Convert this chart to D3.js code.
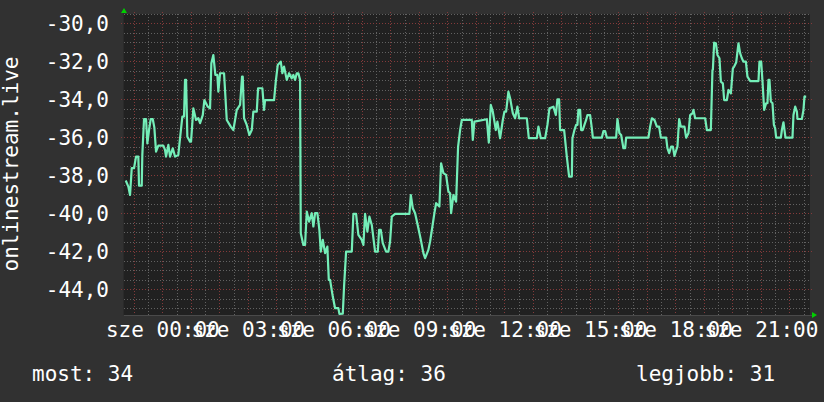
<!DOCTYPE html>
<html><head><meta charset="utf-8">
<script src="https://cdn.jsdelivr.net/npm/d3@7"></script>
<style>html,body{margin:0;padding:0;background:#313131;}svg{display:block}</style>
</head><body><svg id="c" width="824" height="402"></svg>
<script>
// hours relative to "sze 00:00"
const times = [-1.284,-1.193,-1.133,-1.074,-0.993,-0.923,-0.842,-0.818,-0.723,-0.702,-0.642,-0.572,-0.526,-0.467,-0.407,-0.337,-0.281,-0.221,-0.140,0.035,0.095,0.130,0.211,0.270,0.365,0.446,0.561,0.621,0.702,0.761,0.796,0.832,0.877,0.972,1.007,1.088,1.182,1.263,1.323,1.418,1.474,1.593,1.674,1.719,1.789,1.860,1.930,1.965,2.025,2.165,2.260,2.400,2.491,2.551,2.611,2.726,2.796,2.821,2.867,2.961,3.053,3.137,3.193,3.312,3.358,3.509,3.568,3.604,3.919,3.979,4.049,4.154,4.211,4.270,4.365,4.446,4.540,4.596,4.656,4.716,4.772,4.832,4.856,4.947,5.007,5.067,5.147,5.242,5.298,5.358,5.439,5.509,5.558,5.628,5.709,5.789,5.839,5.884,5.979,6.060,6.175,6.211,6.330,6.375,6.446,6.646,6.702,6.796,6.877,6.996,7.053,7.112,7.193,7.263,7.347,7.463,7.558,7.604,7.663,7.733,7.849,7.930,7.989,8.049,8.165,8.667,8.716,8.786,8.867,8.982,9.067,9.158,9.218,9.333,9.393,9.474,9.544,9.604,9.719,9.779,9.860,9.954,10.035,10.095,10.130,10.211,10.305,10.375,10.446,10.505,10.856,10.891,10.947,11.382,11.453,11.523,11.593,11.698,11.754,11.849,11.944,12.000,12.060,12.140,12.200,12.295,12.375,12.456,12.516,12.786,12.856,13.137,13.193,13.277,13.428,13.509,13.579,13.719,13.803,13.860,13.919,13.954,14.095,14.130,14.189,14.270,14.365,14.386,14.456,14.516,14.561,14.596,14.656,14.691,14.751,14.807,14.867,14.912,15.007,15.067,15.102,15.418,15.474,15.533,15.593,15.919,15.965,16.035,16.095,16.175,16.235,16.270,17.053,17.112,17.172,17.263,17.347,17.428,17.488,17.674,17.719,17.779,17.849,17.909,17.965,18.049,18.070,18.130,18.189,18.316,18.375,18.456,18.516,18.596,18.632,18.691,19.042,19.102,19.242,19.298,19.312,19.358,19.418,19.474,19.544,19.593,19.663,19.709,19.804,19.860,19.944,20.014,20.060,20.130,20.211,20.270,20.330,20.386,20.470,20.526,20.621,20.912,20.947,21.007,21.053,21.112,21.182,21.228,21.263,21.298,21.347,21.404,21.453,21.498,21.533,21.698,21.733,21.789,21.825,21.860,22.105,22.140,22.200,22.260,22.281,22.435,22.491,22.526,22.586];
const values = [-38.27,-38.59,-39.03,-37.62,-37.62,-37.01,-37.01,-38.54,-38.54,-36.92,-35.03,-35.03,-36.31,-35.61,-35.03,-35.03,-35.47,-36.75,-36.43,-36.43,-36.66,-37.01,-36.39,-37.01,-36.57,-37.01,-36.92,-36.04,-34.9,-34.9,-32.97,-32.97,-35.96,-36.22,-36.22,-34.47,-35.08,-34.99,-35.25,-34.82,-34.03,-34.38,-34.47,-32.1,-31.66,-32.71,-32.71,-33.59,-32.62,-32.62,-35.08,-35.43,-35.61,-35.08,-34.55,-34.29,-32.8,-32.8,-34.99,-35.34,-35.87,-35.61,-34.64,-34.64,-33.41,-33.41,-34.55,-34.03,-34.03,-33.06,-32.18,-32.01,-32.62,-32.27,-32.97,-32.62,-32.89,-32.71,-32.97,-32.62,-32.62,-32.97,-41.04,-41.66,-41.66,-39.9,-40.43,-39.99,-40.69,-39.99,-39.99,-40.87,-42.01,-41.39,-42.09,-41.75,-43.5,-43.5,-44.38,-44.99,-44.99,-45.29,-45.28,-43.85,-42.01,-42.01,-40.03,-40.03,-41.13,-41.39,-41.66,-40.03,-40.96,-40.17,-40.61,-42.01,-42.01,-40.87,-40.87,-41.57,-42.01,-42.01,-41.48,-40.17,-40.03,-40.03,-39.03,-39.73,-39.99,-40.78,-41.39,-42.09,-42.36,-41.92,-41.48,-40.69,-39.99,-39.46,-39.64,-37.36,-37.88,-37.97,-38.85,-38.94,-39.99,-39.03,-39.38,-36.48,-35.61,-35.08,-35.08,-36.13,-35.17,-35.04,-36.27,-34.29,-34.64,-35.61,-35.17,-36.04,-35.08,-34.64,-34.64,-33.59,-33.94,-34.73,-34.99,-34.38,-34.99,-34.99,-36.04,-36.04,-35.43,-36.04,-36.04,-35.34,-34.47,-34.38,-34.82,-33.99,-33.99,-35.61,-35.61,-36.13,-37.01,-38.06,-38.06,-36.04,-35.61,-35.34,-35.34,-34.55,-34.55,-35.61,-35.61,-35.34,-35.08,-34.82,-34.82,-35.52,-36.01,-36.01,-35.66,-35.66,-36.01,-36.01,-35.03,-35.78,-35.87,-36.57,-36.57,-36.01,-36.01,-35.43,-34.99,-35.08,-35.43,-35.43,-36.01,-36.01,-36.57,-36.83,-36.48,-36.48,-36.97,-36.57,-36.48,-35.03,-35.43,-35.43,-36.01,-35.78,-34.82,-34.73,-34.55,-34.99,-34.99,-35.61,-35.61,-32.45,-32.45,-31.01,-31.04,-31.66,-31.83,-33.06,-33.15,-34.03,-34.03,-33.5,-33.68,-32.36,-32.27,-32.06,-31.04,-31.57,-31.83,-32.01,-32.01,-32.8,-33.03,-33.03,-32.01,-32.01,-33.03,-34.55,-34.2,-34.2,-32.97,-32.97,-34.11,-34.2,-35.34,-35.52,-36.01,-36.01,-35.61,-35.2,-35.61,-36.01,-36.01,-34.82,-34.38,-34.64,-35.03,-35.03,-34.55,-33.85,-33.85];
const yTicks = [-30,-32,-34,-36,-38,-40,-42,-44];
const yTickLabels = ["-30,0","-32,0","-34,0","-36,0","-38,0","-40,0","-42,0","-44,0"];
const xTickHours = [0,3,6,9,12,15,18,21];
const xTickLabels = ["sze 00:00","sze 03:00","sze 06:00","sze 09:00","sze 12:00","sze 15:00","sze 18:00","sze 21:00"];
const yTitle = "onlinestream.live";
const legendLabels = ["most: 34","átlag: 36","legjobb: 31"];

const FONT = "'DejaVu Sans Mono', monospace";
const L = 124, R = 810, T = 14, B = 315;
const svg = d3.select("#c");
svg.append("rect").attr("width",824).attr("height",402).attr("fill","#313131");
svg.append("rect").attr("x",L).attr("y",T).attr("width",R-L).attr("height",B-T).attr("fill","#212121");

const x = d3.scaleLinear().domain([-1.345, 22.72]).range([L, R]);
const y = d3.scaleLinear().domain([-45.35, -29.5]).range([B, T]);

const g = svg.append("g");
// minor grid
d3.range(-45, -29.4, 0.5).forEach(v => {
  if (Math.abs(v % 2) < 1e-6) return;
  g.append("line").attr("x1",L).attr("x2",R).attr("y1",Math.round(y(v))+0.5).attr("y2",Math.round(y(v))+0.5)
   .attr("stroke","#626262").attr("stroke-dasharray","1,2");
});
d3.range(-1, 22.6, 0.5).forEach(h => {
  if (Math.abs(h % 1) < 1e-6) return;
  g.append("line").attr("y1",T).attr("y2",B).attr("x1",Math.round(x(h))+0.5).attr("x2",Math.round(x(h))+0.5)
   .attr("stroke","#626262").attr("stroke-dasharray","1,2");
});
// major grid
yTicks.forEach(v => {
  g.append("line").attr("x1",L-3).attr("x2",R+2).attr("y1",Math.round(y(v))+0.5).attr("y2",Math.round(y(v))+0.5)
   .attr("stroke","#843a3a").attr("stroke-dasharray","1,2");
});
d3.range(-1, 23, 1).forEach(h => {
  g.append("line").attr("y1",T-2).attr("y2",B+3).attr("x1",Math.round(x(h))+0.5).attr("x2",Math.round(x(h))+0.5)
   .attr("stroke","#843a3a").attr("stroke-dasharray","1,2");
});
// axis lines
svg.append("line").attr("x1",L).attr("x2",R+2).attr("y1",B+0.5).attr("y2",B+0.5).attr("stroke","#4a4a4a");
svg.append("line").attr("x1",L-0.5).attr("x2",L-0.5).attr("y1",T-2).attr("y2",B).attr("stroke","#2a2a2a");
// arrows
svg.append("path").attr("d",`M${L-3},${T-1} L${L+3},${T-1} L${L},${T-6} Z`).attr("fill","#00d000");
svg.append("path").attr("d",`M${R+2},${B-3} L${R+2},${B+3} L${R+7},${B} Z`).attr("fill","#00d000");

// data line
const line = d3.line().x((d,i)=>x(times[i])).y((d,i)=>y(values[i]));
svg.append("path").attr("d", line(values)).attr("fill","none")
  .attr("stroke","#74eeb8").attr("stroke-width",2.2).attr("stroke-linejoin","round");

// axes
const ya = svg.append("g").attr("transform",`translate(${L},0)`)
  .call(d3.axisLeft(y).tickValues(yTicks).tickFormat((d,i)=>yTickLabels[i]).tickSize(0).tickPadding(15));
ya.select(".domain").remove();
ya.selectAll("text").attr("fill","#ffffff").attr("font-family",FONT).attr("font-size","21px").attr("dy","0.35em");

const xa = svg.append("g").attr("transform",`translate(0,${B})`)
  .call(d3.axisBottom(x).tickValues(xTickHours).tickFormat((d,i)=>xTickLabels[i]).tickSize(0).tickPadding(7));
xa.select(".domain").remove();
xa.selectAll("text").attr("fill","#ffffff").attr("font-family",FONT).attr("font-size","21px");

// y title
svg.append("text").attr("transform","translate(18,164) rotate(-90)").attr("text-anchor","middle")
  .attr("fill","#ffffff").attr("font-family",FONT).attr("font-size","21px").text(yTitle);

// legend
const legendX = [32, 332, 636];
legendLabels.forEach((t,i)=>{
  svg.append("text").attr("x",legendX[i]).attr("y",381).attr("fill","#ffffff")
    .attr("font-family",FONT).attr("font-size","21px").text(t);
});
</script></body></html>
